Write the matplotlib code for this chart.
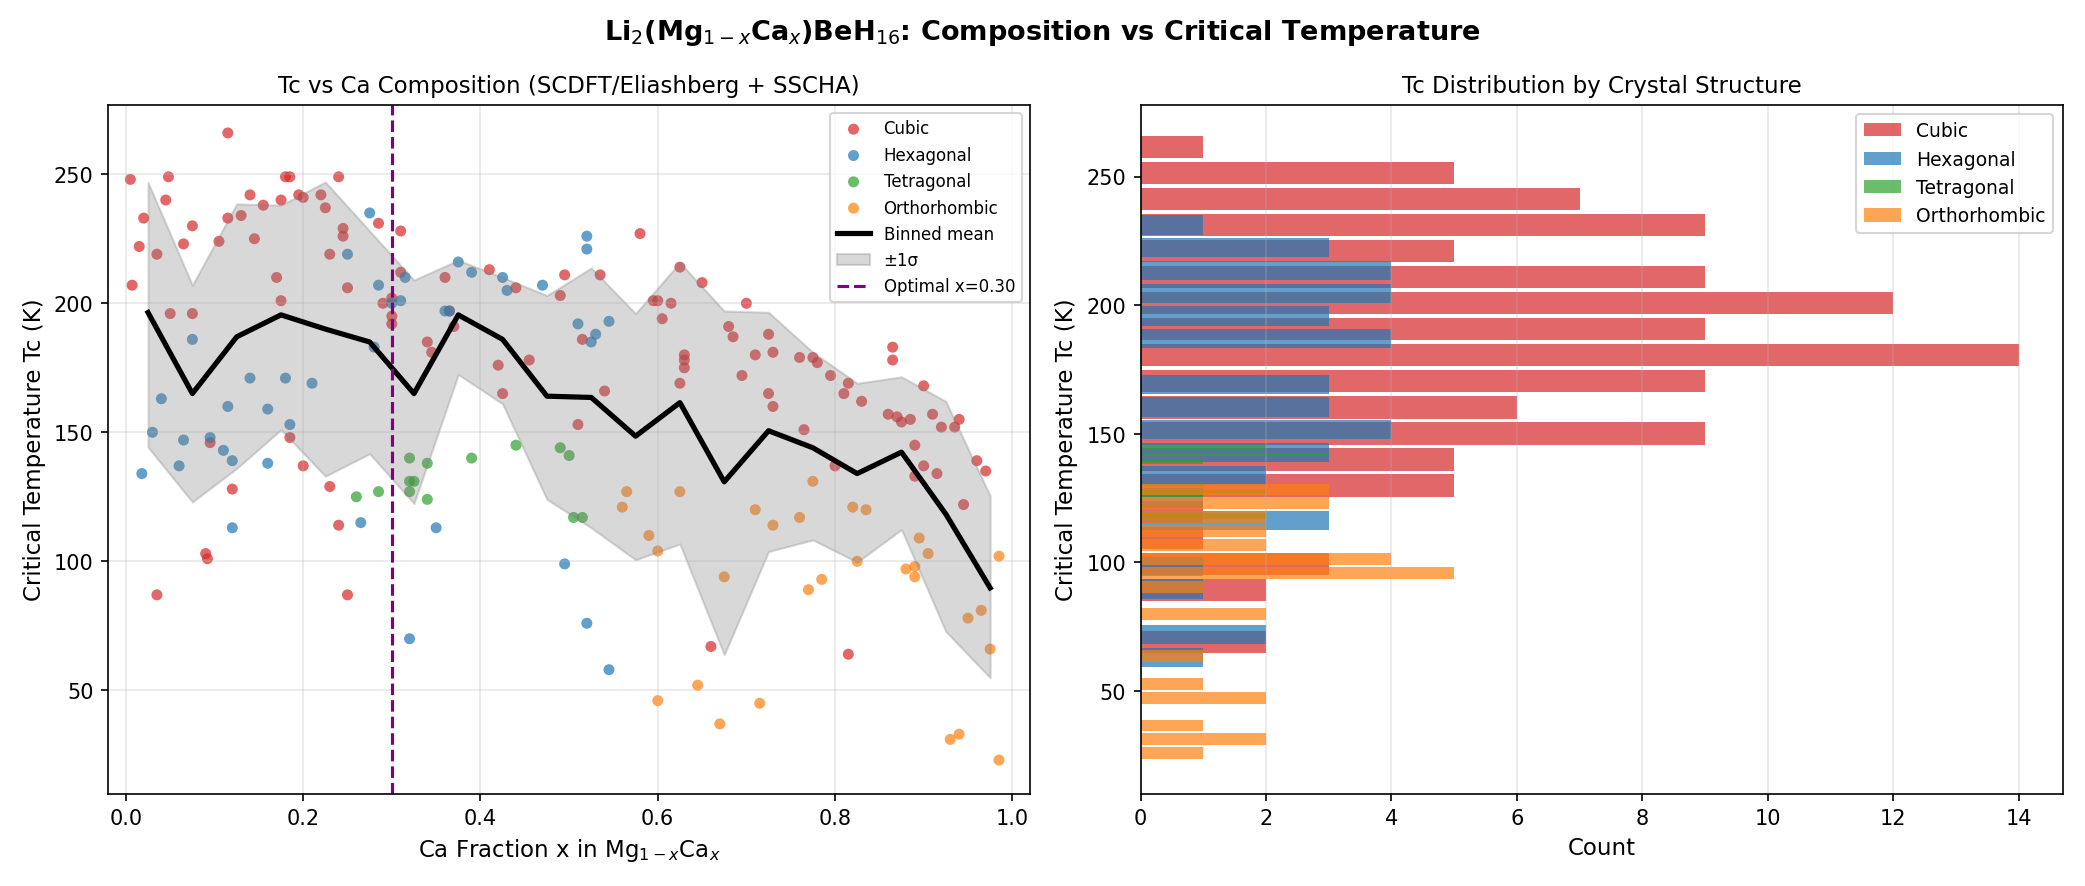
import numpy as np
import matplotlib.pyplot as plt

# scatter data (x = Ca fraction, Tc in K)
cubic_x = [0.005,0.007,0.015,0.02,0.035,0.035,0.045,0.048,0.05,0.065,0.075,0.075,0.09,0.092,0.095,0.105,0.115,0.115,0.12,0.13,
           0.14,0.145,0.155,0.17,0.175,0.175,0.18,0.185,0.185,0.195,0.2,0.2,0.22,0.225,0.23,0.23,0.24,0.245,0.245,0.25,
           0.25,0.24,0.285,0.29,0.3,0.3,0.3,0.31,0.31,0.34,0.345,0.36,0.365,0.37,0.41,0.42,0.425,0.44,0.455,0.49,
           0.495,0.51,0.515,0.535,0.54,0.58,0.595,0.6,0.605,0.615,0.625,0.625,0.63,0.63,0.63,0.65,0.66,0.68,0.685,0.695,
           0.7,0.71,0.725,0.725,0.73,0.73,0.76,0.765,0.775,0.78,0.795,0.8,0.81,0.815,0.815,0.83,0.86,0.865,0.865,0.87,
           0.875,0.885,0.89,0.89,0.9,0.9,0.91,0.915,0.92,0.935,0.94,0.945,0.96,0.97]
cubic_tc = [248,207,222,233,87,219,240,249,196,223,230,196,103,101,146,224,233,266,128,234,
            242,225,238,210,240,201,249,249,148,242,241,137,242,237,219,129,249,229,226,87,
            206,114,231,200,202,195,192,228,212,185,181,210,197,191,213,176,165,206,178,203,
            211,153,186,211,166,227,201,201,194,200,214,169,175,180,178,208,67,191,187,172,
            200,180,188,165,160,181,179,151,179,177,172,137,165,64,169,162,157,183,178,156,
            154,155,145,133,168,137,157,134,152,152,155,122,139,135]
hex_x = [0.018,0.03,0.04,0.06,0.065,0.075,0.095,0.11,0.115,0.12,0.12,0.14,0.16,0.16,0.18,0.185,0.21,0.25,0.265,0.275,
         0.28,0.285,0.3,0.31,0.315,0.32,0.35,0.36,0.365,0.375,0.39,0.425,0.43,0.47,0.495,0.51,0.52,0.52,0.52,0.525,
         0.53,0.545,0.545]
hex_tc = [134,150,163,137,147,186,148,143,160,139,113,171,159,138,171,153,169,219,115,235,
          183,207,200,201,210,70,113,197,197,216,212,210,205,207,99,192,221,226,76,185,
          188,193,58]
tet_x = [0.26,0.285,0.32,0.32,0.32,0.325,0.34,0.34,0.39,0.44,0.49,0.5,0.505,0.515]
tet_tc = [125,127,127,140,131,131,138,124,140,145,144,141,117,117]
ortho_x = [0.56,0.565,0.59,0.6,0.6,0.625,0.645,0.67,0.675,0.71,0.715,0.73,0.76,0.77,0.775,0.785,0.82,0.825,0.835,0.88,
           0.89,0.89,0.895,0.905,0.93,0.94,0.95,0.965,0.975,0.985,0.985]
ortho_tc = [121,127,110,104,46,127,52,37,94,120,45,114,117,89,131,93,121,100,120,97,
            94,98,109,103,31,33,78,81,66,102,23]

# binned statistics
bin_x = [0.025,0.075,0.125,0.175,0.225,0.275,0.325,0.375,0.425,0.475,
         0.525,0.575,0.625,0.675,0.725,0.775,0.825,0.875,0.925,0.975]
bin_mean = [196.4,165,187,195.5,190,185,165,195.5,186,164,163.5,148.5,161.5,130.8,150.6,144,134,142.3,118.3,89.7]
bin_upper = [246.8,207,238.5,238,247,228,209,216.7,210,203,213.7,196,215.8,197,196.5,181,169,171.5,162,125.4]
bin_lower = [144.2,123,136,151,133,141.7,122.4,172.4,161,124,113,100.6,106.7,63.8,103.8,108.3,99.7,112.3,72.8,54.9]

# histogram counts per structure (20 bins over each structure's Tc range, listed top -> bottom)
hist = {
    "Cubic": ((64.0, 266.5), [1,5,7,9,5,9,12,9,14,9,6,9,5,5,1,1,3,2,0,2], "#d62728"),
    "Hexagonal": ((58.6, 235.6), [1,3,4,4,3,4,0,3,3,4,3,2,1,3,0,1,1,0,2,1], "#1f77b4"),
    "Tetragonal": ((116.5, 145.5), [2,0,3,0,1,0,0,0,0,0,1,0,2,1,0,0,0,0,2,2], "#2ca02c"),
    "Orthorhombic": ((23.0, 131.0), [3,3,2,2,2,4,5,1,0,2,0,0,1,0,1,2,0,1,2,1], "#ff7f0e"),
}

fig, (ax1, ax2) = plt.subplots(1, 2, figsize=(13.9, 5.913), dpi=150)

ax1.scatter(cubic_x, cubic_tc, c="#d62728", alpha=0.7, s=28, edgecolors="none", label="Cubic")
ax1.scatter(hex_x, hex_tc, c="#1f77b4", alpha=0.7, s=28, edgecolors="none", label="Hexagonal")
ax1.scatter(tet_x, tet_tc, c="#2ca02c", alpha=0.7, s=28, edgecolors="none", label="Tetragonal")
ax1.scatter(ortho_x, ortho_tc, c="#ff7f0e", alpha=0.7, s=28, edgecolors="none", label="Orthorhombic")
ax1.plot(bin_x, bin_mean, color="black", lw=2.5, label="Binned mean")
ax1.fill_between(bin_x, bin_lower, bin_upper, color="gray", alpha=0.3, label="±1σ")
ax1.axvline(0.30, color="purple", ls="--", lw=1.5, label="Optimal x=0.30")
ax1.set_xlim(-0.02, 1.02)
ax1.set_ylim(10, 277)
ax1.set_xlabel("Ca Fraction x in Mg$_{1-x}$Ca$_x$", fontsize=11)
ax1.set_ylabel("Critical Temperature Tc (K)", fontsize=11)
ax1.set_title("Tc vs Ca Composition (SCDFT/Eliashberg + SSCHA)", fontsize=11)
ax1.legend(loc="upper right", fontsize=8)
ax1.grid(alpha=0.3)

for name, ((lo, hi), counts, color) in hist.items():
    edges = np.linspace(hi, lo, len(counts) + 1)
    width = (hi - lo) / len(counts)
    centers = edges[:-1] - width / 2
    ax2.barh(centers, counts, height=width * 0.85, color=color, alpha=0.7, label=name)
ax2.set_xlim(0, 14.7)
ax2.set_ylim(10, 278)
ax2.set_xlabel("Count", fontsize=11)
ax2.set_ylabel("Critical Temperature Tc (K)", fontsize=11)
ax2.set_title("Tc Distribution by Crystal Structure", fontsize=11)
ax2.legend(loc="upper right", fontsize=9)
ax2.grid(axis="x", alpha=0.3)

fig.suptitle("Li$_2$(Mg$_{1-x}$Ca$_x$)BeH$_{16}$: Composition vs Critical Temperature", fontsize=13, fontweight="bold")
fig.tight_layout()
fig.savefig("out.png", dpi=150)
